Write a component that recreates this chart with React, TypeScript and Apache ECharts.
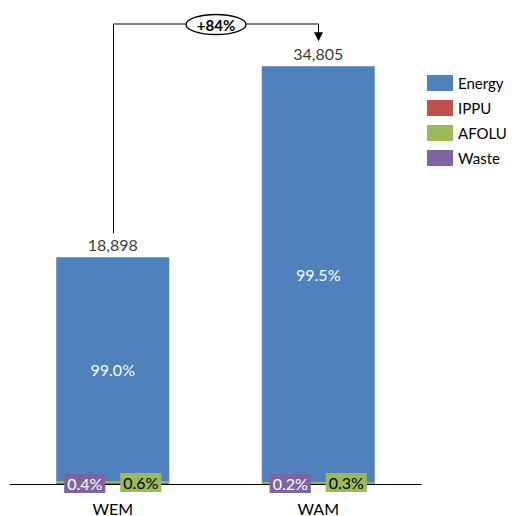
import React, { useEffect, useRef } from "react";
import * as echarts from "echarts";

const categories = ["WEM", "WAM"];
const seriesNames = ["Energy", "IPPU", "AFOLU", "Waste"];
const energy = [18709, 34631];
const ippu = [0, 0];
const afolu = [113, 104];
const waste = [76, 70];
const totals = [18898, 34805];
const energyShare = ["99.0%", "99.5%"];
const afoluShare = ["0.6%", "0.3%"];
const wasteShare = ["0.4%", "0.2%"];
const changeLabel = "+84%";

const FONT = "Lato";
const colors = {
  Energy: "#4f81bd",
  IPPU: "#c0504d",
  AFOLU: "#9bbb59",
  Waste: "#8064a2",
};

export default function App() {
  const ref = useRef<HTMLDivElement>(null);
  useEffect(() => {
    document.body.style.margin = "0";
    const chart = echarts.init(ref.current!, null, { renderer: "svg" });
    const fmtTotal = (v: number) => v.toLocaleString("en-US");
    chart.setOption({
      animation: false,
      textStyle: { fontFamily: FONT },
      grid: { left: 10, right: 91, top: 4, bottom: 32, containLabel: false },
      legend: {
        orient: "vertical",
        left: 427,
        top: 75,
        padding: 0,
        itemWidth: 26,
        itemHeight: 16,
        itemGap: 9,
        data: seriesNames,
        textStyle: { fontSize: 15, color: "#000", fontFamily: FONT },
        icon: "rect",
      },
      xAxis: {
        type: "category",
        data: categories,
        axisLine: { lineStyle: { color: "#000", width: 1 } },
        axisTick: { show: false },
        axisLabel: { color: "#000", fontSize: 16, margin: 16, fontFamily: FONT },
      },
      yAxis: {
        type: "value",
        min: 0,
        max: 40000,
        show: false,
        splitLine: { show: false },
      },
      series: [
        {
          name: "Waste",
          type: "bar",
          stack: "total",
          data: waste,
          barWidth: "55%",
          itemStyle: { color: colors.Waste },
          label: {
            show: true,
            position: "inside",
            offset: [-28, 0],
            formatter: (p: any) => wasteShare[p.dataIndex],
            color: "#fff",
            fontSize: 16,
            fontFamily: FONT,
            backgroundColor: colors.Waste,
            padding: [2, 3, 1, 3],
          },
          z: 3,
        },
        {
          name: "AFOLU",
          type: "bar",
          stack: "total",
          data: afolu,
          itemStyle: { color: colors.AFOLU },
          label: {
            show: true,
            position: "inside",
            offset: [28, 0],
            formatter: (p: any) => afoluShare[p.dataIndex],
            color: "#000",
            fontSize: 16,
            fontFamily: FONT,
            backgroundColor: colors.AFOLU,
            padding: [2, 3, 1, 3],
          },
          z: 3,
        },
        {
          name: "IPPU",
          type: "bar",
          stack: "total",
          data: ippu,
          itemStyle: { color: colors.IPPU },
        },
        {
          name: "Energy",
          type: "bar",
          stack: "total",
          data: energy,
          itemStyle: { color: colors.Energy },
          label: {
            show: true,
            position: "inside",
            formatter: (p: any) => energyShare[p.dataIndex],
            color: "#fff",
            fontSize: 16,
            fontFamily: FONT,
          },
        },
        {
          name: "Total",
          type: "scatter",
          data: totals,
          symbolSize: 0,
          silent: true,
          label: {
            show: true,
            position: "top",
            distance: 5,
            formatter: (p: any) => fmtTotal(totals[p.dataIndex]),
            color: "#000",
            fontSize: 16,
            fontFamily: FONT,
          },
        },
      ],
    });

    const p0 = chart.convertToPixel({ xAxisIndex: 0, yAxisIndex: 0 }, [0, totals[0]]) as number[];
    const p1 = chart.convertToPixel({ xAxisIndex: 0, yAxisIndex: 0 }, [1, totals[1]]) as number[];
    const bracketY = 24;
    const x0 = Math.round(p0[0]) + 0.5;
    const x1 = Math.round(p1[0]) + 0.5;
    const midX = (x0 + x1) / 2;
    const tipY = p1[1] - 25;
    chart.setOption({
      graphic: [
        {
          type: "polyline",
          shape: {
            points: [
              [x0, p0[1] - 24],
              [x0, bracketY],
              [x1, bracketY],
              [x1, tipY - 8],
            ],
          },
          style: { stroke: "#000", lineWidth: 1, fill: null },
        },
        {
          type: "polygon",
          shape: {
            points: [
              [x1 - 4.5, tipY - 9],
              [x1 + 4.5, tipY - 9],
              [x1, tipY],
            ],
          },
          style: { fill: "#000" },
        },
        {
          type: "ellipse",
          shape: { cx: midX, cy: bracketY + 0.5, rx: 30, ry: 10 },
          style: { fill: "#fff", stroke: "#000", lineWidth: 1.3 },
        },
        {
          type: "text",
          x: midX,
          y: bracketY + 1,
          style: {
            text: changeLabel,
            fontSize: 15,
            fontWeight: "bold",
            fontFamily: FONT,
            fill: "#000",
            align: "center",
            verticalAlign: "middle",
          },
        },
      ],
    });
    return () => chart.dispose();
  }, []);
  return <div ref={ref} style={{ width: 512, height: 516 }} />;
}
